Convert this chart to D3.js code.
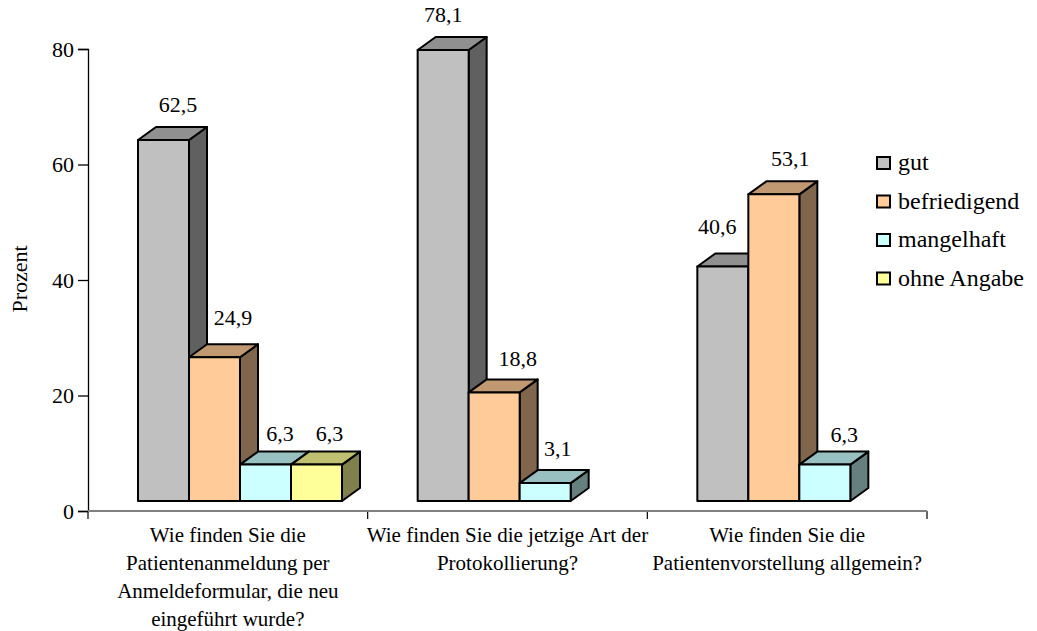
<!DOCTYPE html>
<html>
<head>
<meta charset="utf-8">
<script src="https://cdn.jsdelivr.net/npm/d3@7"></script>
<style>
  body { margin: 0; background: #fff; }
  svg text { font-family: "Liberation Serif", "Times New Roman", serif; }
</style>
</head>
<body>
<script>
// data
var categories = ["q1", "q2", "q3"];
var categoryLabels = [
    ["Wie finden Sie die", "Patientenanmeldung per", "Anmeldeformular, die neu", "eingeführt wurde?"],
    ["Wie finden Sie die jetzige Art der", "Protokollierung?"],
    ["Wie finden Sie die", "Patientenvorstellung allgemein?"]
];
var seriesNames = ["gut", "befriedigend", "mangelhaft", "ohne Angabe"];
var gut = [62.5, 78.1, 40.6];
var befriedigend = [24.9, 18.8, 53.1];
var mangelhaft = [6.3, 3.1, 6.3];
var ohneAngabe = [6.3, null, null];
var yTicks = [0, 20, 40, 60, 80];

// label nudges (layout only) [category][series]
var labelDx = [[14.5, 18.5, 14.5, 13], [0, 23.5, 12.5, 0], [-5.5, 16.5, 19.5, 0]];
var labelDy = [[-15, -19, -11, -11], [-15, -13, -14, 0], [-19.5, -15, -10, 0]];

var seriesValues = [gut, befriedigend, mangelhaft, ohneAngabe];
var colors = [
    { front: "#c0c0c0", top: "#909090", side: "#606060" },
    { front: "#ffcc99", top: "#c09973", side: "#80664d" },
    { front: "#ccffff", top: "#99c0c0", side: "#668080" },
    { front: "#ffff99", top: "#c0c073", side: "#80804d" }
];

var W = 1037, H = 631;
var depthX = 18, depthY = -13, floorShift = -10;

var svg = d3.select("body").append("svg")
    .attr("width", W)
    .attr("height", H)
    .attr("font-family", "Liberation Serif");

var x = d3.scaleBand().domain(categories).range([88, 927]);
var xs = d3.scaleBand().domain(seriesNames).range([50, 254]);
var y = d3.scaleLinear().domain([0, 80]).range([511, 49]);

var fmt = d3.formatLocale({ decimal: ",", thousands: ".", grouping: [3], currency: ["", " €"] }).format(".1f");

// y axis
var yAxis = svg.append("g")
    .attr("transform", "translate(88,0)")
    .call(d3.axisLeft(y).tickValues(yTicks).tickSize(10).tickPadding(4));
yAxis.attr("font-family", "Liberation Serif");
yAxis.select(".domain").attr("stroke", "#000").attr("stroke-width", 1.3);
yAxis.selectAll(".tick line").attr("stroke", "#000").attr("stroke-width", 1.3);
yAxis.selectAll("text")
    .attr("font-size", 22)
    .attr("fill", "#000");

// x axis
var xAxis = svg.append("g")
    .attr("transform", "translate(0,511)");
var boundaries = categories.map(function(c) { return x(c); }).concat([x.range()[1]]);
xAxis.selectAll(".xtick")
    .data(boundaries)
    .enter()
    .append("line")
    .attr("x1", function(d) { return d; })
    .attr("x2", function(d) { return d; })
    .attr("y1", 0).attr("y2", 8)
    .attr("stroke", "#000").attr("stroke-width", 1.2);
xAxis.append("line")
    .attr("x1", 88).attr("x2", 927)
    .attr("stroke", "#808080").attr("stroke-width", 2);

// category labels
categories.forEach(function(c, i) {
    svg.append("text")
        .attr("x", x(c) + x.bandwidth() / 2)
        .attr("y", 542)
        .attr("text-anchor", "middle")
        .attr("font-size", 21)
        .selectAll("tspan")
        .data(categoryLabels[i])
        .enter()
        .append("tspan")
        .attr("x", x(c) + x.bandwidth() / 2)
        .attr("dy", function(d, j) { return j === 0 ? 0 : 28; })
        .text(function(d) { return d; });
});

// y axis title
svg.append("text")
    .attr("transform", "translate(27,279) rotate(-90)")
    .attr("text-anchor", "middle")
    .attr("font-size", 22)
    .text("Prozent");

// 3d bars
var bars = svg.append("g");
categories.forEach(function(c, ci) {
    seriesNames.forEach(function(s, si) {
        var v = seriesValues[si][ci];
        if (v == null) return;
        var x0 = x(c) + xs(s), x1 = x0 + xs.bandwidth();
        var yb = y(0) + floorShift, yt = y(v) + floorShift;
        var col = colors[si];
        var g = bars.append("g")
            .attr("stroke", "#000")
            .attr("stroke-width", 2)
            .attr("stroke-linejoin", "round");
        // side
        g.append("path")
            .attr("d", "M" + x1 + "," + yb + "L" + (x1 + depthX) + "," + (yb + depthY) +
                "L" + (x1 + depthX) + "," + (yt + depthY) + "L" + x1 + "," + yt + "Z")
            .attr("fill", col.side);
        // top
        g.append("path")
            .attr("d", "M" + x0 + "," + yt + "L" + (x0 + depthX) + "," + (yt + depthY) +
                "L" + (x1 + depthX) + "," + (yt + depthY) + "L" + x1 + "," + yt + "Z")
            .attr("fill", col.top);
        // front
        g.append("rect")
            .attr("x", x0).attr("y", yt)
            .attr("width", x1 - x0).attr("height", yb - yt)
            .attr("fill", col.front);
        // label
        svg.append("text")
            .attr("x", (x0 + x1) / 2 + labelDx[ci][si])
            .attr("y", yt + depthY + labelDy[ci][si])
            .attr("text-anchor", "middle")
            .attr("font-size", 22)
            .text(fmt(v));
    });
});

// legend
var legend = svg.append("g").attr("transform", "translate(877,163)");
var items = legend.selectAll("g")
    .data(seriesNames)
    .enter()
    .append("g")
    .attr("transform", function(d, i) { return "translate(0," + (i * 38.5) + ")"; });
items.append("rect")
    .attr("x", 0).attr("y", -6)
    .attr("width", 13).attr("height", 12)
    .attr("fill", function(d, i) { return colors[i].front; })
    .attr("stroke", "#000")
    .attr("stroke-width", 2);
items.append("text")
    .attr("x", 21).attr("y", 7)
    .attr("font-size", 24)
    .text(function(d) { return d; });
</script>
</body>
</html>
